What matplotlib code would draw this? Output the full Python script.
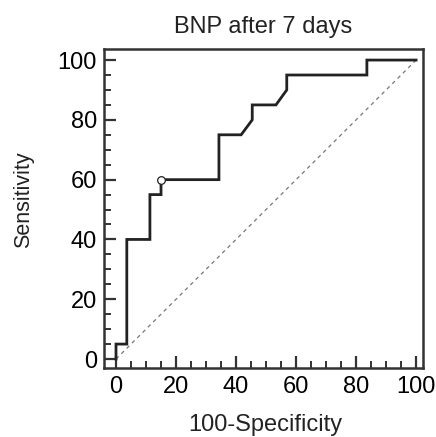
import matplotlib
matplotlib.use("Agg")
import matplotlib.pyplot as plt
from matplotlib.ticker import MultipleLocator

# ROC curve (100-Specificity, Sensitivity)
fpr = [0, 0, 3.6, 3.6, 11.3, 11.3, 15.0, 15.0, 34.3, 34.3, 41.7, 45.4, 45.4, 53.3, 56.9, 56.9, 83.6, 83.6, 100]
tpr = [0, 5, 5, 40, 40, 55, 55, 60, 60, 75, 75, 80, 85, 85, 90, 95, 95, 100, 100]
# optimal criterion point
opt_x = [15.0]
opt_y = [60]
# reference diagonal
diag = [0, 100]
ticks = [0, 20, 40, 60, 80, 100]

plt.rcParams['font.family'] = ['Liberation Sans', 'DejaVu Sans']

fig = plt.figure(figsize=(4.36, 4.37), dpi=100)
ax = fig.add_axes([104/436, (437-368)/437, (423-104)/436, (368-49)/437])

ax.plot(diag, diag, color='#777777', lw=0.9, dashes=(3, 3))
ax.plot(fpr, tpr, color='#222222', lw=2.0, solid_joinstyle='miter')
ax.plot(opt_x, opt_y, 'o', ms=5.5, mfc='white', mec='#222222', mew=0.9)

ax.set_xlim(-4.0, 102.3)
ax.set_ylim(-3.0, 103.7)
ax.set_xticks(ticks)
ax.set_yticks(ticks)
ax.xaxis.set_minor_locator(MultipleLocator(5))
ax.yaxis.set_minor_locator(MultipleLocator(5))
ax.tick_params(which='major', direction='in', length=8.5, width=1.6, color='#333333',
               labelsize=17, pad=6, top=False, right=False)
ax.tick_params(which='minor', direction='in', length=4.8, width=1.4, color='#333333',
               top=False, right=False)
ax.tick_params(axis='y', which='major', pad=5)
for s in ax.spines.values():
    s.set_linewidth(1.8)
    s.set_color('#333333')

ax.set_title('BNP after 7 days', fontsize=17, pad=11.5, color='#222222')
ax.set_xlabel('100-Specificity', fontsize=17, va='baseline', color='#222222')
ax.xaxis.set_label_coords(0.505, (368-431)/319)
ax.set_ylabel('Sensitivity', fontsize=15.5, va='center', color='#222222')
ax.yaxis.set_label_coords((24-104)/319, (368-200)/319)

fig.savefig('out.png', dpi=100)
